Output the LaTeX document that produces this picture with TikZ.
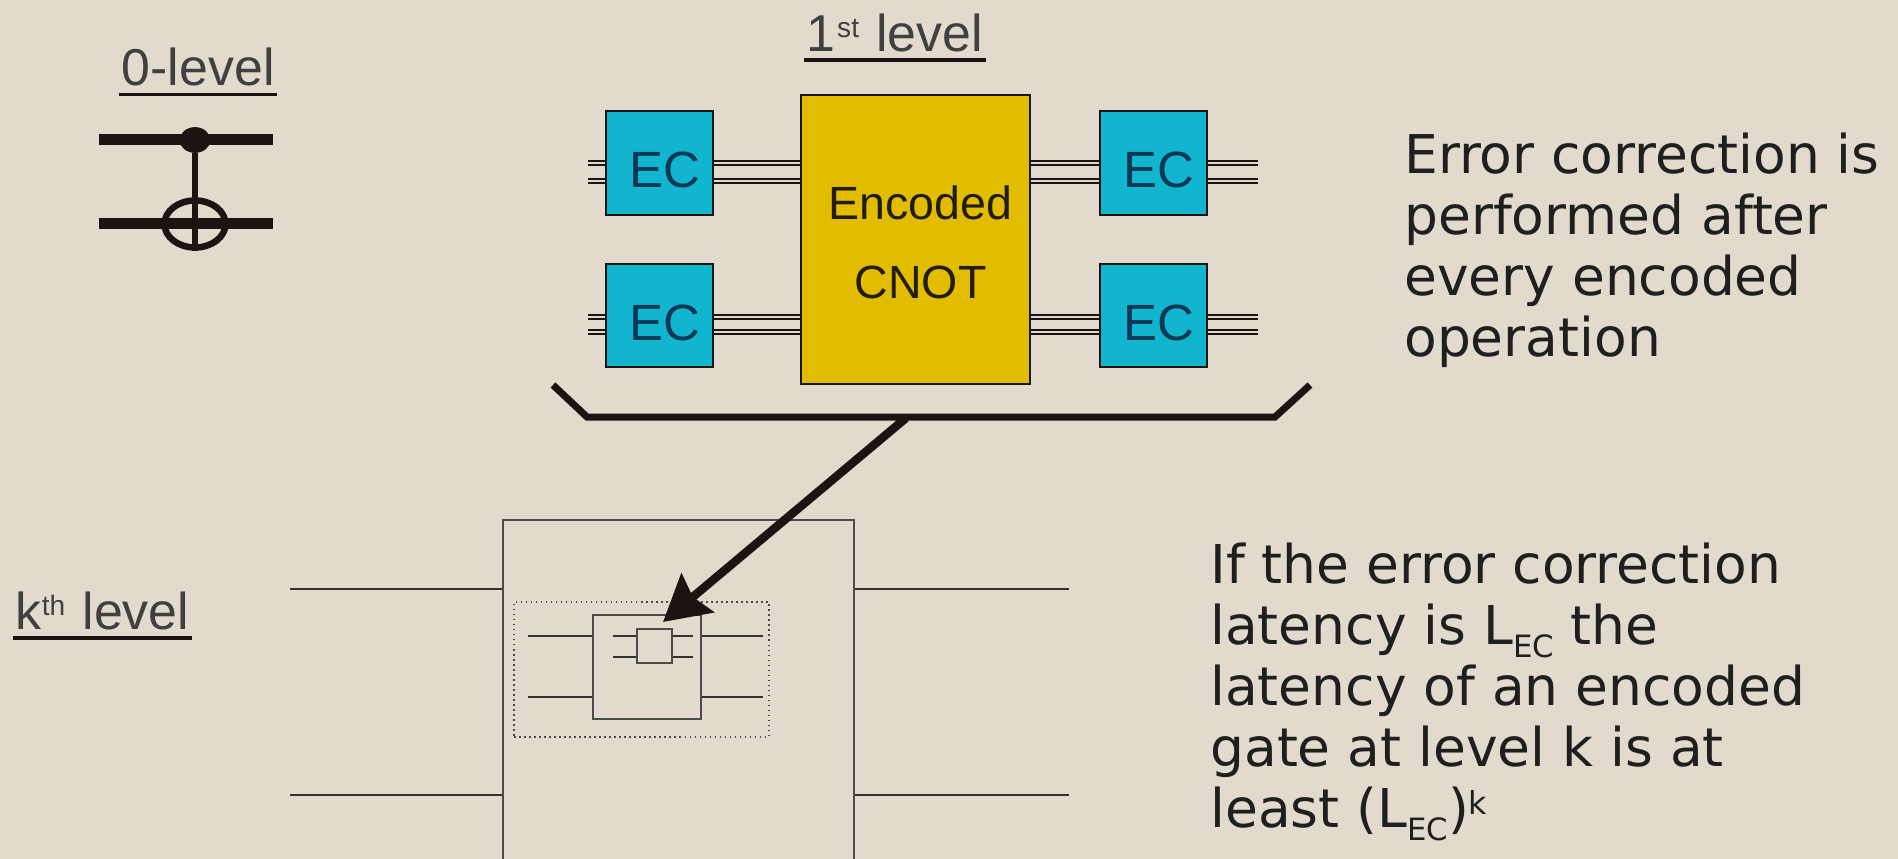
\documentclass[tikz,border=0pt]{standalone}
\usepackage{fontspec}
\setmainfont{Liberation Sans}
\newfontfamily\notefont{DejaVu Sans}
\usetikzlibrary{arrows.meta,shapes.geometric}
\definecolor{pagebg}{RGB}{225,218,205}
\definecolor{ecfill}{RGB}{18,181,206}
\definecolor{cnotfill}{RGB}{226,188,0}
\definecolor{inkdark}{RGB}{28,20,16}
\definecolor{ectext}{RGB}{12,56,88}
\newcommand{\levelsup}[1]{\raisebox{8pt}{\fontsize{16}{16}\selectfont #1}}
\newcommand{\notesub}[1]{\smash{\raisebox{-7.4pt}{\fontsize{17.5}{18}\selectfont #1}}}
\newcommand{\notesup}[1]{\smash{\raisebox{7.4pt}{\fontsize{18}{18}\selectfont #1}}}
\tikzset{
  levellabel/.style={inner xsep=0.05cm, inner ysep=0.16cm, text=black!75, font=\fontsize{29.5}{35}\selectfont},
  underbar/.style={line width=0.07cm, inkdark},
  qubit/.style={line width=0.22cm, inkdark},
  ecbox/.style={draw=inkdark, line width=0.04cm, fill=ecfill, minimum width=2.14cm, text=ectext, text height=1.0cm, text depth=0pt, execute at begin node=\hspace*{0.22cm}, font=\fontsize{29}{34}\selectfont},
  ecwire/.style={line width=0.035cm, inkdark, double=pagebg, double distance=0.04cm},
  thinwire/.style={line width=0.03cm, black!80},
  thinbox/.style={draw=black!70, line width=0.04cm},
  notetext/.style={align=left, inner sep=0pt, text=black!88, font=\notefont\fontsize{30.4}{34.7}\selectfont}
}
\begin{document}
\begin{tikzpicture}
\useasboundingbox (0,0) rectangle (37.96,-17.18);
\clip[preaction={fill=pagebg}] (0,0) rectangle (37.96,-17.18);
% 0-level
\node[levellabel, anchor=south west] (zerolabel) at (2.38,-1.89) {0-level};
\draw[underbar] (zerolabel.south west) -- (zerolabel.south east);
\coordinate (qa) at (1.98,-2.80);
\coordinate (qb) at (5.46,-2.80);
\coordinate (qc) at (1.98,-4.48);
\coordinate (qd) at (5.46,-4.48);
\node[draw=inkdark, fill=inkdark, ellipse, inner sep=0pt, minimum width=0.6cm, minimum height=0.5cm] (ctrl) at (3.90,-2.80) {};
\node[draw=inkdark, line width=0.13cm, ellipse, inner sep=0pt, minimum width=1.22cm, minimum height=0.94cm] (targ) at (3.90,-4.48) {};
\draw[qubit] (qa) -- (qb);
\draw[qubit] (qc) -- (qd);
\draw[line width=0.11cm, inkdark] (ctrl) -- (targ.south);
% 1st level
\node[levellabel, anchor=south west] (firstlabel) at (16.08,-1.20) {1\hspace{0.03cm}\levelsup{st}\hspace{0.06cm} level};
\draw[underbar] (firstlabel.south west) -- (firstlabel.south east);
\node[ecbox, minimum height=2.08cm] (eca) at (13.19,-3.26) {EC};
\node[ecbox, minimum height=2.06cm] (ecb) at (13.19,-6.31) {EC};
\node[ecbox, minimum height=2.08cm] (ecc) at (23.06,-3.26) {EC};
\node[ecbox, minimum height=2.06cm] (ecd) at (23.06,-6.31) {EC};
\node[draw=inkdark, line width=0.04cm, fill=cnotfill, minimum width=4.58cm, minimum height=5.78cm] (cnot) at (18.31,-4.79) {};
\node[align=center, inner sep=0pt, text=black!85!cnotfill, font=\fontsize{26.5}{45}\selectfont] (cnottext) at (18.41,-4.84) {Encoded\\CNOT};
\coordinate (wireend) at (25.16,0);
\coordinate (rowa) at (11.76,-3.26);
\coordinate (rowb) at (11.76,-3.62);
\coordinate (rowc) at (11.76,-6.34);
\coordinate (rowd) at (11.76,-6.64);
\draw[ecwire] (rowa) -- (rowa -| eca.west) (rowa -| eca.east) -- (rowa -| cnot.west) (rowa -| cnot.east) -- (rowa -| ecc.west) (rowa -| ecc.east) -- (rowa -| wireend);
\draw[ecwire] (rowb) -- (rowb -| eca.west) (rowb -| eca.east) -- (rowb -| cnot.west) (rowb -| cnot.east) -- (rowb -| ecc.west) (rowb -| ecc.east) -- (rowb -| wireend);
\draw[ecwire] (rowc) -- (rowc -| ecb.west) (rowc -| ecb.east) -- (rowc -| cnot.west) (rowc -| cnot.east) -- (rowc -| ecd.west) (rowc -| ecd.east) -- (rowc -| wireend);
\draw[ecwire] (rowd) -- (rowd -| ecb.west) (rowd -| ecb.east) -- (rowd -| cnot.west) (rowd -| cnot.east) -- (rowd -| ecd.west) (rowd -| ecd.east) -- (rowd -| wireend);
% bracket
\coordinate (bracka) at (11.06,-7.70);
\coordinate (brackb) at (11.74,-8.34);
\coordinate (brackc) at (25.50,-8.34);
\coordinate (brackd) at (26.20,-7.70);
\draw[line width=0.14cm, inkdark] (bracka) -- (brackb) -- (brackc) -- (brackd);
% kth level
\node[levellabel, anchor=south west] (klabel) at (0.26,-12.76) {k\levelsup{th}\hspace{0.06cm} level};
\draw[underbar] (klabel.south west) -- (klabel.south east);
\node[thinbox, minimum width=7.02cm, minimum height=7.6cm] (outer) at (13.57,-14.2) {};
\node[draw=black!70, line width=0.03cm, dotted, minimum width=5.1cm, minimum height=2.7cm] (dotbox) at (12.83,-13.39) {};
\node[thinbox, minimum width=2.16cm, minimum height=2.08cm] (midgate) at (12.94,-13.34) {};
\node[thinbox, minimum width=0.7cm, minimum height=0.68cm] (smallgate) at (13.09,-12.92) {};
\coordinate (outa) at (5.80,-11.78);
\coordinate (outb) at (5.80,-15.90);
\coordinate (outend) at (21.38,0);
\draw[thinwire] (outa) -- (outa -| outer.west) (outa -| outer.east) -- (outa -| outend);
\draw[thinwire] (outb) -- (outb -| outer.west) (outb -| outer.east) -- (outb -| outend);
\coordinate (mida) at (10.56,-12.72);
\coordinate (midb) at (10.56,-13.94);
\coordinate (midend) at (15.26,0);
\draw[thinwire] (mida) -- (mida -| midgate.west) (mida -| midgate.east) -- (mida -| midend);
\draw[thinwire] (midb) -- (midb -| midgate.west) (midb -| midgate.east) -- (midb -| midend);
\coordinate (sma) at (12.26,-12.72);
\coordinate (smb) at (12.26,-13.14);
\coordinate (smend) at (13.86,0);
\draw[thinwire] (sma) -- (sma -| smallgate.west) (sma -| smallgate.east) -- (sma -| smend);
\draw[thinwire] (smb) -- (smb -| smallgate.west) (smb -| smallgate.east) -- (smb -| smend);
% arrow
\coordinate (arrowtail) at (18.12,-8.36);
\coordinate (arrowtip) at (13.26,-12.44);
\draw[-{Stealth[length=0.9cm,width=1.0cm,inset=0.12cm]}, line width=0.17cm, inkdark] (arrowtail) -- (arrowtip);
% notes
\node[notetext, anchor=west] (noteone) at (28.08,-5.00) {Error correction is\\performed after\\every encoded\\operation};
\node[notetext, anchor=west] (notetwo) at (24.20,-13.77) {If the error correction\\latency is L\notesub{EC} the\\latency of an encoded\\gate at level k is at\\least (L\notesub{EC})\notesup{k}};
\end{tikzpicture}
\end{document}
